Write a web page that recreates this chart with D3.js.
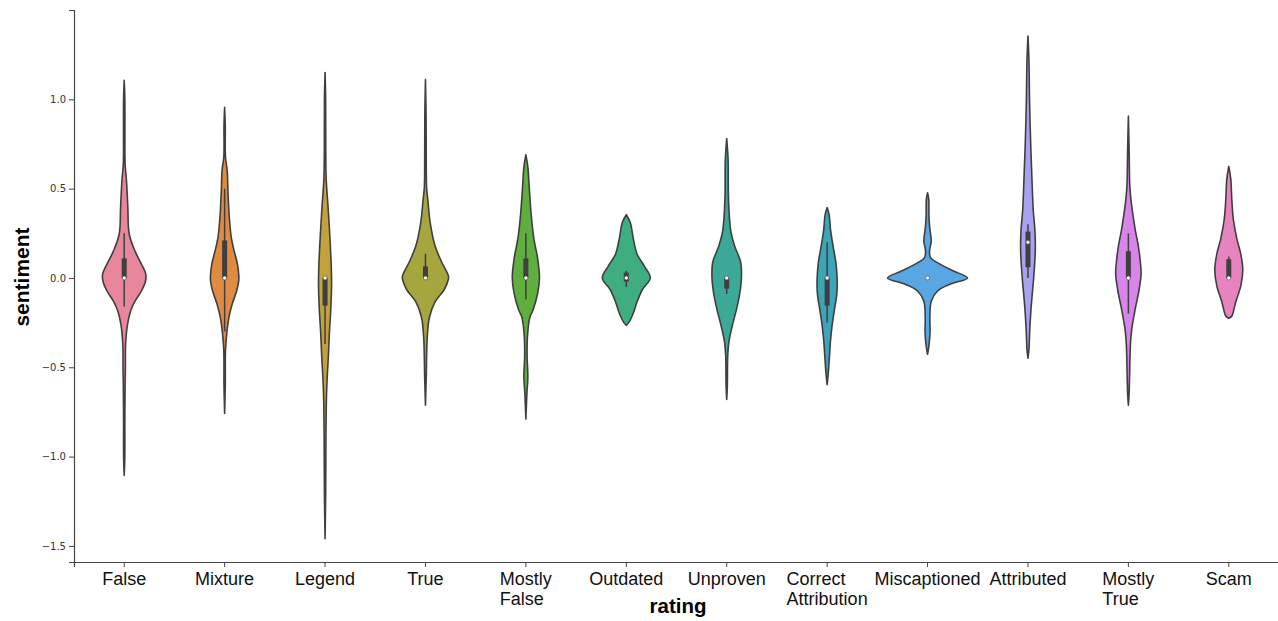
<!DOCTYPE html>
<html>
<head>
<meta charset="utf-8">
<script src="https://cdn.jsdelivr.net/npm/d3@7"></script>
<style>
  body { margin: 0; background: #fff; }
  svg { display: block; }
</style>
</head>
<body>
<svg id="chart" width="1278" height="621"></svg>
<script>
// categories, labels (\n = line break) and fill colours
var categories = ['False', 'Mixture', 'Legend', 'True', 'Mostly False', 'Outdated',
  'Unproven', 'Correct Attribution', 'Miscaptioned', 'Attributed', 'Mostly True', 'Scam'];
var tickLabels = ['False', 'Mixture', 'Legend', 'True', 'Mostly\nFalse', 'Outdated',
  'Unproven', 'Correct\nAttribution', 'Miscaptioned', 'Attributed', 'Mostly\nTrue', 'Scam'];
var colors = ['#e8879b', '#e08b42', '#c3a23b', '#a7a53e', '#5fae3e', '#3eae80',
  '#3ca898', '#3ca5b8', '#58a6e4', '#a9a2f0', '#d884ea', '#e784c0'];
var yTicks = [-1.5, -1.0, -0.5, 0.0, 0.5, 1.0];

// violin outlines: [sentiment, relative density]
var falseProfile = [[1.106,0],[1.0,0.016],[0.8,0.018],[0.64,0.022],[0.54,0.058],[0.4,0.09],[0.246,0.125],[0.15,0.27],[0.078,0.43],[0.02,0.54],[-0.02,0.53],[-0.073,0.43],[-0.13,0.27],[-0.185,0.16],[-0.26,0.083],[-0.37,0.035],[-0.5,0.03],[-0.6,0.022],[-0.8,0.016],[-1.0,0.015],[-1.106,0]];
var mixtureProfile = [[0.956,0],[0.85,0.016],[0.68,0.02],[0.6,0.065],[0.487,0.083],[0.336,0.118],[0.224,0.168],[0.15,0.24],[0.078,0.32],[0.01,0.355],[-0.02,0.35],[-0.073,0.3],[-0.146,0.19],[-0.22,0.108],[-0.3,0.058],[-0.4,0.022],[-0.6,0.016],[-0.759,0]];
var legendProfile = [[1.15,0],[1.0,0.015],[0.7,0.018],[0.55,0.03],[0.4,0.075],[0.31,0.1],[0.177,0.133],[0.044,0.158],[-0.044,0.163],[-0.177,0.143],[-0.31,0.108],[-0.44,0.083],[-0.575,0.05],[-0.7,0.032],[-0.885,0.022],[-1.2,0.016],[-1.46,0]];
var trueProfile = [[1.11,0],[0.9,0.016],[0.6,0.02],[0.5,0.03],[0.44,0.058],[0.31,0.118],[0.177,0.243],[0.088,0.408],[0.01,0.575],[-0.01,0.57],[-0.066,0.468],[-0.133,0.243],[-0.22,0.1],[-0.33,0.045],[-0.55,0.02],[-0.712,0]];
var mostlyFalseProfile = [[0.69,0],[0.62,0.05],[0.51,0.083],[0.354,0.133],[0.22,0.2],[0.11,0.293],[0.0,0.34],[-0.088,0.293],[-0.177,0.183],[-0.22,0.1],[-0.31,0.045],[-0.44,0.03],[-0.55,0.05],[-0.65,0.025],[-0.79,0]];
var outdatedProfile = [[0.354,0],[0.31,0.1],[0.22,0.175],[0.133,0.27],[0.066,0.45],[0.0,0.6],[-0.066,0.4],[-0.133,0.27],[-0.2,0.17],[-0.25,0.06],[-0.265,0]];
var unprovenProfile = [[0.78,0],[0.66,0.035],[0.44,0.045],[0.265,0.1],[0.177,0.2],[0.088,0.35],[0.0,0.368],[-0.088,0.325],[-0.177,0.243],[-0.265,0.143],[-0.354,0.058],[-0.44,0.025],[-0.6,0.016],[-0.68,0]];
var correctAttrProfile = [[0.394,0],[0.354,0.05],[0.265,0.088],[0.177,0.15],[0.088,0.218],[0.0,0.25],[-0.088,0.243],[-0.177,0.183],[-0.265,0.125],[-0.354,0.083],[-0.44,0.058],[-0.53,0.03],[-0.597,0]];
var miscaptionedProfile = [[0.477,0],[0.44,0.03],[0.35,0.035],[0.28,0.055],[0.207,0.093],[0.15,0.05],[0.114,0.075],[0.076,0.325],[0.039,0.65],[0.0,1.0],[-0.034,0.575],[-0.073,0.25],[-0.13,0.093],[-0.22,0.058],[-0.295,0.063],[-0.37,0.04],[-0.427,0]];
var attributedProfile = [[1.354,0],[1.217,0.025],[0.996,0.04],[0.774,0.065],[0.553,0.1],[0.376,0.133],[0.263,0.175],[0.15,0.183],[0.0,0.143],[-0.088,0.108],[-0.177,0.075],[-0.288,0.045],[-0.4,0.025],[-0.449,0]];
var mostlyTrueProfile = [[0.907,0],[0.7,0.02],[0.52,0.035],[0.44,0.063],[0.354,0.113],[0.265,0.175],[0.177,0.25],[0.088,0.3],[0.022,0.318],[-0.066,0.268],[-0.177,0.168],[-0.288,0.083],[-0.376,0.05],[-0.553,0.03],[-0.65,0.018],[-0.712,0]];
var scamProfile = [[0.624,0],[0.553,0.05],[0.44,0.075],[0.33,0.113],[0.22,0.2],[0.133,0.3],[0.044,0.35],[-0.044,0.3],[-0.133,0.175],[-0.2,0.1],[-0.215,0.07],[-0.226,0]];

var profiles = [falseProfile, mixtureProfile, legendProfile, trueProfile, mostlyFalseProfile,
  outdatedProfile, unprovenProfile, correctAttrProfile, miscaptionedProfile,
  attributedProfile, mostlyTrueProfile, scamProfile];

// inner box: quartiles, median and whisker ends
var q1 = [0.0, 0.0, -0.155, 0.0, 0.0, -0.02, -0.06, -0.155, 0.0, 0.06, 0.0, 0.0];
var medians = [0.0, 0.0, 0.0, 0.0, 0.0, 0.0, 0.0, 0.0, 0.0, 0.2, 0.0, 0.0];
var q3 = [0.11, 0.21, 0.0, 0.065, 0.11, 0.03, 0.0, 0.0, 0.0, 0.26, 0.15, 0.105];
var whiskerLo = [-0.16, -0.3, -0.37, -0.01, -0.12, -0.05, -0.09, -0.25, 0.0, 0.0, -0.2, 0.0];
var whiskerHi = [0.25, 0.5, 0.0, 0.135, 0.25, 0.04, 0.0, 0.2, 0.0, 0.3, 0.25, 0.12];

var svg = d3.select('#chart');
var lineColor = '#3f3f3f';

var x = d3.scaleBand().domain(categories).range([74, 1279]);
var y = d3.scaleLinear().domain([-1.59, 1.5]).range([562, 10]);
var w = d3.scaleLinear().domain([0, 1]).range([0, 40]);

var violins = svg.append('g').attr('class', 'violins');

categories.forEach(function(cat, i) {
  var cx = x(cat) + x.bandwidth() / 2;
  var area = d3.area()
    .y(function(d) { return y(d[0]); })
    .x0(function(d) { return cx - w(d[1]); })
    .x1(function(d) { return cx + w(d[1]); })
    .curve(d3.curveCatmullRom.alpha(0.5));

  var g = violins.append('g');
  g.append('path')
    .attr('d', area(profiles[i]))
    .attr('fill', colors[i])
    .attr('stroke', lineColor)
    .attr('stroke-width', 1.6)
    .attr('stroke-linejoin', 'round');

  // whiskers
  g.append('line')
    .attr('x1', cx).attr('x2', cx)
    .attr('y1', y(whiskerLo[i])).attr('y2', y(whiskerHi[i]))
    .attr('stroke', lineColor)
    .attr('stroke-width', 1.5);
  // box
  if (q3[i] > q1[i]) {
    g.append('line')
      .attr('x1', cx).attr('x2', cx)
      .attr('y1', y(q1[i])).attr('y2', y(q3[i]))
      .attr('stroke', lineColor)
      .attr('stroke-width', 5);
  }
  // median
  g.append('circle')
    .attr('cx', cx).attr('cy', y(medians[i]))
    .attr('r', 2)
    .attr('fill', '#fff')
    .attr('stroke', lineColor)
    .attr('stroke-width', 0.6);
});

// y axis
var yAxis = svg.append('g')
  .attr('transform', 'translate(74,0)')
  .call(d3.axisLeft(y).tickValues(yTicks).tickFormat(d3.format('.1f')).tickSizeOuter(0).tickSize(5));
yAxis.select('.domain').attr('stroke', '#444').attr('stroke-width', 1.2);
yAxis.selectAll('.tick line').attr('stroke', '#444');
yAxis.selectAll('.tick text')
  .attr('font-family', 'DejaVu Sans, sans-serif')
  .attr('font-size', 10)
  .attr('fill', '#333')
  .attr('x', -8);

// x axis
var xAxis = svg.append('g')
  .attr('transform', 'translate(0,562)')
  .call(d3.axisBottom(x).tickSizeOuter(0).tickSize(5).tickFormat(''));
xAxis.select('.domain').attr('stroke', '#444').attr('stroke-width', 1.2);
xAxis.selectAll('.tick line').attr('stroke', '#444');

var labels = svg.append('g')
  .attr('font-family', 'Liberation Sans, Arial, sans-serif')
  .attr('font-size', 18)
  .attr('fill', '#111');

categories.forEach(function(cat, i) {
  var cx = x(cat) + x.bandwidth() / 2;
  var lines = tickLabels[i].split('\n');
  var t = labels.append('text').attr('text-anchor', 'start');
  lines.forEach(function(l, j) {
    t.append('tspan').attr('y', 585 + j * 20).text(l);
  });
  var widest = 0;
  t.selectAll('tspan').each(function() {
    widest = Math.max(widest, this.getComputedTextLength());
  });
  t.selectAll('tspan').attr('x', cx - widest / 2);
});

// axis titles
svg.append('text')
  .attr('x', 678).attr('y', 613)
  .attr('text-anchor', 'middle')
  .attr('font-family', 'Liberation Sans, Arial, sans-serif')
  .attr('font-weight', 'bold')
  .attr('font-size', 20.5)
  .attr('fill', '#000')
  .text('rating');

svg.append('text')
  .attr('transform', 'translate(29,277) rotate(-90)')
  .attr('text-anchor', 'middle')
  .attr('font-family', 'Liberation Sans, Arial, sans-serif')
  .attr('font-weight', 'bold')
  .attr('font-size', 21)
  .attr('fill', '#000')
  .text('sentiment');
</script>
</body>
</html>
